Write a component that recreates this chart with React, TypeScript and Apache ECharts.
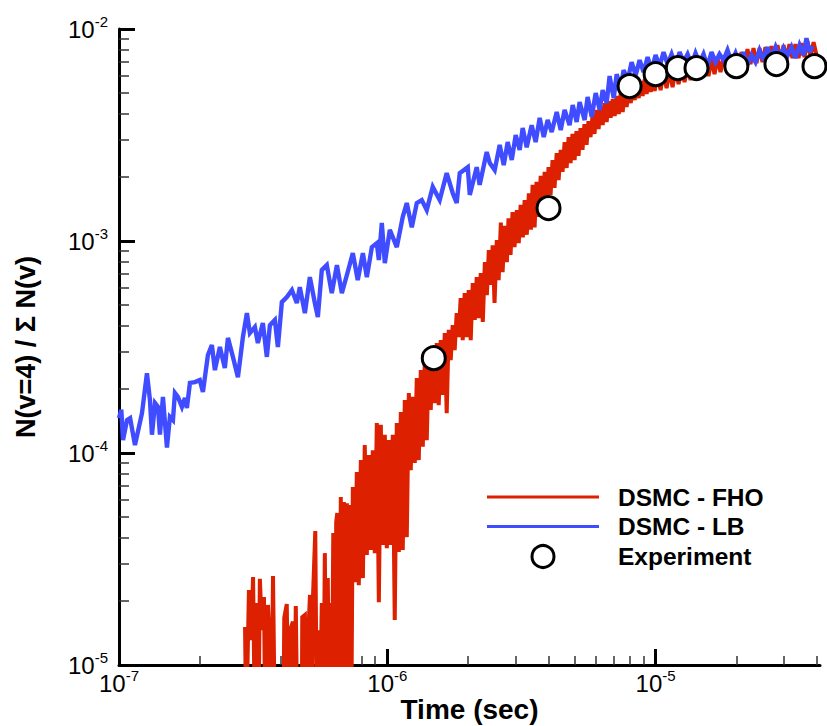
import React, { useEffect, useRef } from 'react';
import * as echarts from 'echarts';

// ---------- axis definitions ----------
const xMin = 1e-7;
const xMax = 4.1e-5;
const yMin = 1e-5;
const yMax = 1e-2;
const xTickExponents = [-7, -6, -5];
const yTickExponents = [-5, -4, -3, -2];
const xMinorTicks = [
  2e-7, 3e-7, 4e-7, 5e-7, 6e-7, 7e-7, 8e-7, 9e-7,
  2e-6, 3e-6, 4e-6, 5e-6, 6e-6, 7e-6, 8e-6, 9e-6,
  2e-5, 3e-5, 4e-5,
];
const yMinorTicks = [
  2e-5, 3e-5, 4e-5, 5e-5, 6e-5, 7e-5, 8e-5, 9e-5,
  2e-4, 3e-4, 4e-4, 5e-4, 6e-4, 7e-4, 8e-4, 9e-4,
  2e-3, 3e-3, 4e-3, 5e-3, 6e-3, 7e-3, 8e-3, 9e-3,
];

// ---------- series (time [s], N(v=4)/sum N(v)) ----------
// strokes reaching below the visible range are given 5e-6
const fhoPoints: [number, number][] = [
  [2.95e-7, 1.51e-5], [2.98e-7, 5e-6], [3.05e-7, 2.26e-5], [3.11e-7, 1.31e-5], [3.16e-7, 2.60e-5], [3.21e-7, 5e-6],
  [3.27e-7, 1.96e-5], [3.31e-7, 5e-6], [3.35e-7, 2.55e-5], [3.41e-7, 1.46e-5], [3.47e-7, 2.09e-5], [3.51e-7, 5e-6],
  [3.59e-7, 1.92e-5], [3.65e-7, 1.22e-5], [3.70e-7, 5e-6], [3.75e-7, 2.63e-5], [3.81e-7, 5e-6],
  [4.10e-7, 5e-6], [4.13e-7, 1.67e-5], [4.22e-7, 1.94e-5], [4.28e-7, 5e-6], [4.34e-7, 1.46e-5], [4.45e-7, 1.60e-5],
  [4.50e-7, 5e-6], [4.56e-7, 1.90e-5], [4.62e-7, 5e-6],
  [4.80e-7, 5e-6], [4.82e-7, 1.68e-5], [4.93e-7, 1.72e-5], [4.99e-7, 5e-6], [5.06e-7, 1.28e-5], [5.15e-7, 2.14e-5],
  [5.21e-7, 5e-6], [5.28e-7, 2.03e-5], [5.39e-7, 4.28e-5], [5.46e-7, 5e-6], [5.53e-7, 1.46e-5], [5.60e-7, 5e-6],
  [5.70e-7, 1.96e-5], [5.78e-7, 5e-6], [5.85e-7, 3.37e-5], [5.93e-7, 5e-6], [6.00e-7, 2.57e-5], [6.08e-7, 5e-6],
  [6.16e-7, 1.96e-5], [6.21e-7, 5e-6], [6.29e-7, 4.19e-5], [6.37e-7, 5e-6], [6.45e-7, 4.72e-5], [6.51e-7, 5.21e-5],
  [6.63e-7, 5e-6], [6.71e-7, 6.20e-5], [6.80e-7, 5e-6], [6.89e-7, 5.87e-5], [6.98e-7, 5e-6], [7.07e-7, 5.80e-5],
  [7.16e-7, 5e-6], [7.25e-7, 5.68e-5], [7.34e-7, 5e-6], [7.44e-7, 6.91e-5],
  [7.57e-7, 2.46e-5], [7.70e-7, 8.13e-5], [7.83e-7, 2.38e-5], [7.97e-7, 9.26e-5], [8.11e-7, 2.57e-5], [8.24e-7, 1.09e-4],
  [8.39e-7, 3.30e-5], [8.53e-7, 9.77e-5], [8.68e-7, 3.49e-5], [8.83e-7, 1.03e-4], [8.98e-7, 3.37e-5], [9.14e-7, 1.385e-4],
  [9.30e-7, 1.98e-5], [9.46e-7, 1.36e-4], [9.62e-7, 3.68e-5], [9.79e-7, 1.22e-4], [9.96e-7, 3.56e-5],
  [1.013e-6, 1.15e-4], [1.030e-6, 3.68e-5], [1.048e-6, 1.22e-4], [1.066e-6, 1.63e-5], [1.085e-6, 1.385e-4],
  [1.104e-6, 3.41e-5], [1.123e-6, 1.56e-4], [1.142e-6, 3.49e-5], [1.162e-6, 1.78e-4], [1.182e-6, 4.01e-5],
  [1.203e-6, 1.92e-4], [1.223e-6, 8.30e-5], [1.245e-6, 1.84e-4], [1.266e-6, 8.97e-5], [1.288e-6, 2.26e-4],
  [1.310e-6, 9.26e-5], [1.333e-6, 2.46e-4], [1.356e-6, 1.07e-4], [1.379e-6, 2.66e-4], [1.403e-6, 1.15e-4],
  [1.428e-6, 2.90e-4], [1.452e-6, 1.595e-4], [1.477e-6, 3.13e-4], [1.503e-6, 1.72e-4], [1.529e-6, 3.30e-4],
  [1.555e-6, 1.68e-4], [1.582e-6, 3.41e-4], [1.609e-6, 1.88e-4], [1.637e-6, 3.68e-4], [1.665e-6, 1.54e-4],
  [1.694e-6, 3.81e-4], [1.723e-6, 2.74e-4], [1.753e-6, 4.01e-4], [1.783e-6, 3.06e-4], [1.814e-6, 4.57e-4],
  [1.845e-6, 3.52e-4], [1.877e-6, 5.38e-4], [1.910e-6, 3.41e-4], [1.943e-6, 5.68e-4], [1.977e-6, 3.52e-4],
  [2.011e-6, 5.87e-4], [2.046e-6, 3.41e-4], [2.082e-6, 6.33e-4], [2.118e-6, 4.24e-4], [2.154e-6, 6.76e-4],
  [2.19e-6, 4.33e-4], [2.23e-6, 7.06e-4], [2.27e-6, 4.15e-4], [2.31e-6, 7.95e-4], [2.35e-6, 5.56e-4],
  [2.39e-6, 9.05e-4], [2.43e-6, 6.20e-4], [2.47e-6, 9.55e-4], [2.51e-6, 5.10e-4], [2.56e-6, 1.01e-3],
  [2.60e-6, 6.54e-4], [2.65e-6, 1.22e-3], [2.69e-6, 7.13e-4], [2.74e-6, 1.18e-3], [2.79e-6, 7.95e-4],
  [2.83e-6, 1.28e-3], [2.88e-6, 8.60e-4], [2.93e-6, 1.37e-3], [2.98e-6, 9.36e-4], [3.04e-6, 1.40e-3],
  [3.09e-6, 9.77e-4], [3.14e-6, 1.48e-3], [3.20e-6, 1.04e-3], [3.25e-6, 1.56e-3], [3.31e-6, 1.07e-3],
  [3.37e-6, 1.68e-3], [3.43e-6, 1.13e-3], [3.48e-6, 1.84e-3], [3.54e-6, 1.16e-3], [3.60e-6, 1.90e-3],
  [3.67e-6, 1.30e-3], [3.73e-6, 2.03e-3], [3.79e-6, 1.45e-3], [3.86e-6, 2.12e-3], [3.93e-6, 1.51e-3],
  [3.99e-6, 2.23e-3], [4.06e-6, 1.65e-3], [4.13e-6, 2.41e-3], [4.20e-6, 1.78e-3], [4.28e-6, 2.60e-3],
  [4.35e-6, 1.94e-3], [4.43e-6, 2.69e-3], [4.50e-6, 2.12e-3], [4.58e-6, 2.93e-3], [4.66e-6, 2.21e-3],
  [4.74e-6, 3.09e-3], [4.82e-6, 2.33e-3], [4.90e-6, 3.20e-3], [4.99e-6, 2.41e-3], [5.07e-6, 3.30e-3],
  [5.16e-6, 2.52e-3], [5.25e-6, 3.41e-3], [5.34e-6, 2.69e-3], [5.43e-6, 3.56e-3], [5.53e-6, 2.84e-3],
  [5.62e-6, 3.68e-3], [5.72e-6, 3.09e-3], [5.82e-6, 3.89e-3], [5.92e-6, 3.20e-3], [6.02e-6, 4.15e-3],
  [6.13e-6, 3.37e-3], [6.24e-6, 4.33e-3], [6.35e-6, 3.52e-3], [6.46e-6, 4.47e-3], [6.57e-6, 3.64e-3],
  [6.69e-6, 4.57e-3], [6.80e-6, 3.81e-3], [6.92e-6, 4.67e-3], [7.04e-6, 3.89e-3], [7.16e-6, 4.83e-3],
  [7.29e-6, 3.97e-3], [7.41e-6, 4.94e-3], [7.54e-6, 4.06e-3], [7.67e-6, 5.10e-3], [7.80e-6, 4.28e-3],
  [7.94e-6, 5.26e-3], [8.08e-6, 4.47e-3], [8.21e-6, 5.38e-3], [8.36e-6, 4.62e-3], [8.50e-6, 5.56e-3],
  [8.65e-6, 4.72e-3], [8.80e-6, 5.68e-3], [8.95e-6, 4.83e-3], [9.11e-6, 5.80e-3], [9.26e-6, 4.94e-3],
  [9.42e-6, 5.93e-3], [9.59e-6, 5.04e-3], [9.75e-6, 6.00e-3], [9.92e-6, 5.10e-3],
  [1.017e-5, 6.12e-3], [1.044e-5, 5.15e-3], [1.071e-5, 6.26e-3], [1.099e-5, 5.26e-3], [1.127e-5, 6.40e-3],
  [1.157e-5, 5.32e-3], [1.187e-5, 6.47e-3], [1.218e-5, 5.50e-3], [1.250e-5, 6.61e-3], [1.282e-5, 5.62e-3],
  [1.316e-5, 6.68e-3], [1.350e-5, 5.74e-3], [1.385e-5, 6.83e-3], [1.421e-5, 5.80e-3], [1.458e-5, 6.91e-3],
  [1.496e-5, 5.93e-3], [1.535e-5, 7.06e-3], [1.575e-5, 6.00e-3], [1.616e-5, 7.21e-3], [1.658e-5, 6.12e-3],
  [1.701e-5, 7.29e-3], [1.746e-5, 6.26e-3], [1.791e-5, 7.45e-3], [1.838e-5, 6.40e-3], [1.886e-5, 7.53e-3],
  [1.935e-5, 6.47e-3], [1.986e-5, 7.70e-3], [2.038e-5, 6.61e-3], [2.091e-5, 7.78e-3], [2.145e-5, 6.68e-3],
  [2.20e-5, 8.04e-3], [2.258e-5, 6.83e-3], [2.317e-5, 8.13e-3], [2.377e-5, 6.91e-3], [2.44e-5, 8.13e-3],
  [2.503e-5, 6.98e-3], [2.568e-5, 8.21e-3], [2.635e-5, 7.06e-3], [2.704e-5, 8.30e-3], [2.775e-5, 7.13e-3],
  [2.847e-5, 8.40e-3], [2.921e-5, 7.13e-3], [3.00e-5, 8.40e-3], [3.075e-5, 7.21e-3], [3.155e-5, 8.49e-3],
  [3.237e-5, 7.29e-3], [3.32e-5, 8.49e-3], [3.41e-5, 7.29e-3], [3.50e-5, 8.58e-3], [3.59e-5, 7.37e-3],
  [3.68e-5, 8.77e-3], [3.78e-5, 7.45e-3], [3.88e-5, 8.67e-3], [3.98e-5, 7.53e-3],
];

const lbPoints: [number, number][] = [
  [1.00e-7, 1.46e-4], [1.02e-7, 1.60e-4], [1.035e-7, 1.15e-4], [1.071e-7, 1.43e-4], [1.10e-7, 1.46e-4],
  [1.147e-7, 1.09e-4], [1.218e-7, 1.54e-4], [1.271e-7, 2.38e-4], [1.304e-7, 1.78e-4], [1.327e-7, 1.22e-4],
  [1.362e-7, 1.72e-4], [1.397e-7, 1.65e-4], [1.421e-7, 1.22e-4], [1.458e-7, 1.84e-4], [1.509e-7, 1.06e-4],
  [1.548e-7, 1.48e-4], [1.589e-7, 1.43e-4], [1.616e-7, 1.92e-4], [1.658e-7, 1.84e-4], [1.716e-7, 1.65e-4],
  [1.761e-7, 1.82e-4], [1.791e-7, 1.63e-4], [1.838e-7, 2.14e-4], [1.919e-7, 2.16e-4], [2.00e-7, 2.21e-4],
  [2.055e-7, 1.94e-4], [2.145e-7, 2.90e-4], [2.219e-7, 3.23e-4], [2.277e-7, 2.46e-4], [2.377e-7, 3.16e-4],
  [2.48e-7, 2.52e-4], [2.547e-7, 3.49e-4], [2.658e-7, 2.84e-4], [2.775e-7, 2.28e-4], [2.896e-7, 3.52e-4],
  [2.997e-7, 4.57e-4], [3.075e-7, 3.68e-4], [3.21e-7, 3.93e-4], [3.293e-7, 3.30e-4], [3.437e-7, 4.10e-4],
  [3.557e-7, 2.84e-4], [3.651e-7, 4.01e-4], [3.81e-7, 4.24e-4], [3.91e-7, 3.16e-4], [4.046e-7, 5.15e-4],
  [4.224e-7, 5.44e-4], [4.41e-7, 5.87e-4], [4.60e-7, 5.10e-4], [4.72e-7, 6.06e-4], [4.93e-7, 4.57e-4],
  [5.145e-7, 6.76e-4], [5.37e-7, 5.10e-4], [5.51e-7, 4.38e-4], [5.70e-7, 7.29e-4], [5.95e-7, 7.70e-4],
  [6.21e-7, 5.68e-4], [6.49e-7, 7.70e-4], [6.77e-7, 5.68e-4], [7.07e-7, 6.91e-4], [7.44e-7, 8.77e-4],
  [7.76e-7, 6.54e-4], [8.11e-7, 8.77e-4], [8.39e-7, 6.76e-4], [8.76e-7, 9.36e-4], [9.14e-7, 9.77e-4],
  [9.30e-7, 8.13e-4], [9.54e-7, 1.216e-3], [9.79e-7, 7.87e-4], [1.022e-6, 1.13e-3], [1.085e-6, 9.36e-4],
  [1.142e-6, 1.30e-3], [1.182e-6, 1.51e-3], [1.234e-6, 1.16e-3], [1.288e-6, 1.51e-3], [1.344e-6, 1.56e-3],
  [1.403e-6, 1.40e-3], [1.477e-6, 1.80e-3], [1.568e-6, 1.56e-3], [1.665e-6, 2.09e-3], [1.754e-6, 1.68e-3],
  [1.814e-6, 1.51e-3], [1.862e-6, 2.09e-3], [1.995e-6, 2.23e-3], [2.03e-6, 1.65e-3], [2.154e-6, 2.23e-3],
  [2.21e-6, 1.84e-3], [2.347e-6, 2.63e-3], [2.41e-6, 2.33e-3], [2.514e-6, 2.16e-3], [2.624e-6, 2.84e-3],
  [2.716e-6, 2.28e-3], [2.81e-6, 2.93e-3], [2.91e-6, 2.41e-3], [3.01e-6, 3.16e-3], [3.115e-6, 2.69e-3],
  [3.196e-6, 3.41e-3], [3.308e-6, 2.77e-3], [3.452e-6, 3.52e-3], [3.572e-6, 2.93e-3], [3.698e-6, 3.81e-3],
  [3.83e-6, 3.09e-3], [3.96e-6, 3.72e-3], [4.10e-6, 3.27e-3], [4.28e-6, 4.06e-3], [4.43e-6, 3.34e-3],
  [4.58e-6, 4.15e-3], [4.78e-6, 3.52e-3], [4.91e-6, 4.38e-3], [5.08e-6, 3.64e-3], [5.21e-6, 4.52e-3],
  [5.44e-6, 3.72e-3], [5.58e-6, 4.78e-3], [5.78e-6, 3.85e-3], [5.98e-6, 4.99e-3], [6.19e-6, 4.15e-3],
  [6.35e-6, 5.15e-3], [6.57e-6, 4.47e-3], [6.74e-6, 6.00e-3], [6.98e-6, 4.72e-3], [7.16e-6, 6.12e-3],
  [7.41e-6, 5.26e-3], [7.60e-6, 6.40e-3], [7.87e-6, 5.74e-3], [8.14e-6, 6.98e-3], [8.43e-6, 6.06e-3],
  [8.72e-6, 7.13e-3], [9.02e-6, 6.26e-3], [9.34e-6, 7.37e-3], [9.66e-6, 6.40e-3], [1.00e-5, 7.53e-3],
  [1.035e-5, 6.68e-3], [1.071e-5, 7.78e-3], [1.108e-5, 6.83e-3], [1.147e-5, 7.61e-3], [1.187e-5, 6.68e-3],
  [1.229e-5, 7.78e-3], [1.271e-5, 6.98e-3], [1.316e-5, 7.61e-3], [1.362e-5, 6.76e-3], [1.409e-5, 7.70e-3],
  [1.458e-5, 6.91e-3], [1.509e-5, 7.61e-3], [1.562e-5, 6.68e-3], [1.616e-5, 7.78e-3], [1.673e-5, 6.98e-3],
  [1.731e-5, 7.61e-3], [1.791e-5, 7.13e-3], [1.854e-5, 7.95e-3], [1.919e-5, 6.98e-3], [1.986e-5, 7.70e-3],
  [2.055e-5, 6.83e-3], [2.127e-5, 7.78e-3], [2.20e-5, 6.76e-3], [2.277e-5, 7.53e-3], [2.357e-5, 6.98e-3],
  [2.44e-5, 7.95e-3], [2.525e-5, 7.13e-3], [2.613e-5, 8.21e-3], [2.704e-5, 7.29e-3], [2.80e-5, 8.21e-3],
  [2.90e-5, 7.29e-3], [3.00e-5, 8.13e-3], [3.10e-5, 7.45e-3], [3.21e-5, 8.21e-3], [3.32e-5, 7.29e-3],
  [3.44e-5, 8.40e-3], [3.56e-5, 7.53e-3], [3.65e-5, 9.05e-3], [3.75e-5, 7.78e-3], [3.84e-5, 8.30e-3],
];

const experimentTime = [1.49e-6, 3.99e-6, 8.0e-6, 1.0e-5, 1.21e-5, 1.42e-5, 2.0e-5, 2.82e-5, 3.91e-5];
const experimentValue = [2.8e-4, 1.43e-3, 5.38e-3, 6.12e-3, 6.54e-3, 6.54e-3, 6.68e-3, 6.83e-3, 6.68e-3];

const seriesNames = ['DSMC - FHO', 'DSMC - LB', 'Experiment'];

const RED = '#dc2000';
const BLUE = '#3f4cff';
const FONT = '"Liberation Sans", Arial, Helvetica, sans-serif';

const lg = (v: number) => Math.log10(v);

const rich = {
  b: { fontSize: 24, lineHeight: 30, fontFamily: FONT, color: '#000' },
  e: { fontSize: 15, lineHeight: 15, verticalAlign: 'top', fontFamily: FONT, color: '#000' },
};
const expLabel = (v: number) => `{b|10}{e|${Math.round(v)}}`;

export default function App() {
  const ref = useRef<HTMLDivElement>(null);

  useEffect(() => {
    if (!ref.current) return;
    const chart = echarts.init(ref.current, null, { renderer: 'svg' });

    const overlayX = (values: number[], major: boolean) => ({
      type: 'value',
      min: lg(xMin),
      max: lg(xMax),
      position: 'bottom',
      axisLine: { show: false, onZero: false },
      axisTick: {
        show: true,
        inside: true,
        length: major ? 16 : 9,
        customValues: values,
        lineStyle: { color: major ? '#000' : '#333', width: major ? 3 : 1.5 },
      },
      axisLabel: major
        ? { show: true, customValues: values, formatter: expLabel, margin: 3, rich, fontFamily: FONT, fontSize: 24, color: '#000' }
        : { show: false },
      splitLine: { show: false },
    });
    const overlayY = (values: number[], major: boolean) => ({
      type: 'value',
      min: lg(yMin),
      max: lg(yMax),
      position: 'left',
      axisLine: { show: false, onZero: false },
      axisTick: {
        show: true,
        inside: true,
        length: major ? 16 : 10,
        customValues: values,
        lineStyle: { color: major ? '#000' : '#333', width: major ? 3 : 1.5 },
      },
      axisLabel: major
        ? { show: true, customValues: values, formatter: expLabel, margin: 11, rich, fontFamily: FONT, fontSize: 24, color: '#000' }
        : { show: false },
      splitLine: { show: false },
    });

    const option: any = {
      animation: false,
      backgroundColor: '#fff',
      grid: { left: 119, right: 7, top: 29, bottom: 61, containLabel: false, outerBoundsMode: 'none' },
      xAxis: [
        {
          type: 'log',
          logBase: 10,
          min: xMin,
          max: xMax,
          position: 'bottom',
          axisLine: { show: true, onZero: false, lineStyle: { color: '#000', width: 3 } },
          axisTick: { show: false },
          axisLabel: { show: false },
          splitLine: { show: false },
          name: 'Time (sec)',
          nameLocation: 'middle',
          nameGap: 30,
          nameTextStyle: { fontFamily: FONT, fontWeight: 'bold', fontSize: 28, color: '#000' },
        },
        overlayX(xTickExponents, true),
        overlayX(xMinorTicks.map(lg), false),
      ],
      yAxis: [
        {
          type: 'log',
          logBase: 10,
          min: yMin,
          max: yMax,
          position: 'left',
          axisLine: { show: true, onZero: false, lineStyle: { color: '#000', width: 3 } },
          axisTick: { show: false },
          axisLabel: { show: false },
          splitLine: { show: false },
          name: 'N(v=4) / Σ N(v)',
          nameLocation: 'middle',
          nameRotate: 90,
          nameGap: 80,
          nameTextStyle: { fontFamily: FONT, fontWeight: 'bold', fontSize: 27, color: '#000' },
        },
        overlayY(yTickExponents, true),
        overlayY(yMinorTicks.map(lg), false),
      ],
      series: [
        {
          name: seriesNames[0],
          type: 'line',
          xAxisIndex: 0,
          yAxisIndex: 0,
          data: fhoPoints,
          showSymbol: false,
          symbol: 'none',
          clip: true,
          lineStyle: { color: RED, width: 4, join: 'miter', miterLimit: 3 },
          itemStyle: { color: RED },
          z: 2,
        },
        {
          name: seriesNames[1],
          type: 'line',
          xAxisIndex: 0,
          yAxisIndex: 0,
          data: lbPoints,
          showSymbol: false,
          symbol: 'none',
          clip: true,
          lineStyle: { color: BLUE, width: 4.4, join: 'miter', miterLimit: 3 },
          itemStyle: { color: BLUE },
          z: 3,
        },
        {
          name: seriesNames[2],
          type: 'scatter',
          xAxisIndex: 0,
          yAxisIndex: 0,
          data: experimentTime.map((t, i) => [t, experimentValue[i]]),
          symbol: 'circle',
          symbolSize: 23,
          itemStyle: { color: '#fff', borderColor: '#000', borderWidth: 3, opacity: 1 },
          z: 4,
        },
      ],
      graphic: [
        { type: 'line', shape: { x1: 487, y1: 497, x2: 599, y2: 497 }, style: { stroke: RED, lineWidth: 3 } },
        { type: 'line', shape: { x1: 487, y1: 526.5, x2: 599, y2: 526.5 }, style: { stroke: BLUE, lineWidth: 3 } },
        { type: 'circle', shape: { cx: 543, cy: 556.5, r: 11 }, style: { fill: '#fff', stroke: '#000', lineWidth: 3 } },
        {
          type: 'text', x: 618, y: 497,
          style: { text: seriesNames[0], fontFamily: FONT, fontWeight: 'bold', fontSize: 24.5, fill: '#000', verticalAlign: 'middle', align: 'left' },
        },
        {
          type: 'text', x: 618, y: 526.5,
          style: { text: seriesNames[1], fontFamily: FONT, fontWeight: 'bold', fontSize: 24.5, fill: '#000', verticalAlign: 'middle', align: 'left' },
        },
        {
          type: 'text', x: 618, y: 556,
          style: { text: seriesNames[2], fontFamily: FONT, fontWeight: 'bold', fontSize: 24.5, fill: '#000', verticalAlign: 'middle', align: 'left' },
        },
      ],
    };

    chart.setOption(option);
    return () => chart.dispose();
  }, []);

  return (
    <div
      ref={ref}
      style={{ position: 'fixed', left: 0, top: 0, width: 827, height: 726, background: '#fff' }}
    />
  );
}
